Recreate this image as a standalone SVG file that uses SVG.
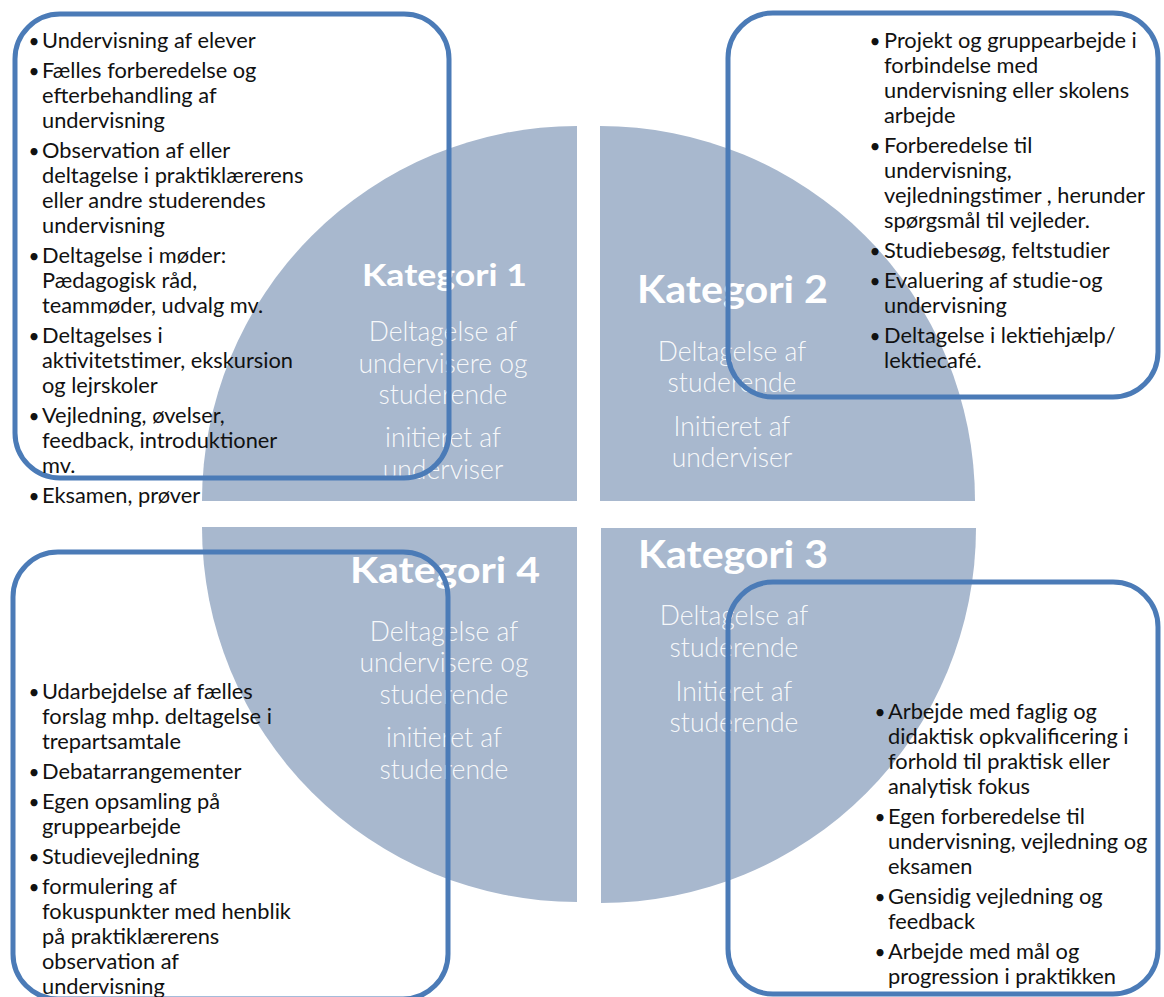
<svg xmlns="http://www.w3.org/2000/svg" width="1164" height="997" viewBox="0 0 1164 997">
<style>
.q{fill:#a8b8ce}
.box{fill:none;stroke:#4b7bb7;stroke-width:5}
.t{font-family:Lato,"Liberation Sans",sans-serif;font-size:21.8px;fill:#111111}
.bu{font-family:Lato,"Liberation Sans",sans-serif;font-size:19px;fill:#111111;text-anchor:middle}
.h{font-family:Lato,"Liberation Sans",sans-serif;font-weight:700;fill:#ffffff;text-anchor:middle}
.s{font-family:Lato,"Liberation Sans",sans-serif;font-weight:300;font-size:26.5px;fill:#ffffff;fill-opacity:0.93;text-anchor:middle}
</style>
<rect width="1164" height="997" fill="#ffffff"/>

<g id="kategori-1">
<path class="q" d="M577,501 L202,501 A375,375 0 0 1 577,126 Z"/>
<text class="h" x="444.5" y="286" font-size="30" textLength="165" lengthAdjust="spacingAndGlyphs">Kategori 1</text>
<text class="s"><tspan x="443" y="341">Deltagelse af</tspan><tspan x="443" y="373">undervisere og</tspan><tspan x="443" y="404">studerende</tspan><tspan x="443" y="447">initieret af</tspan><tspan x="443" y="479">underviser</tspan></text>
</g>

<g id="kategori-2">
<path class="q" d="M600,501 L600,126 A375,375 0 0 1 975,501 Z"/>
<text class="h" x="732.5" y="303" font-size="38" textLength="191" lengthAdjust="spacingAndGlyphs">Kategori 2</text>
<text class="s"><tspan x="732" y="361">Deltagelse af</tspan><tspan x="732" y="392">studerende</tspan><tspan x="732" y="436">Initieret af</tspan><tspan x="732" y="467">underviser</tspan></text>
</g>

<g id="kategori-3">
<path class="q" d="M601,528 L976,528 A375,375 0 0 1 601,903 Z"/>
<text class="h" x="733" y="568" font-size="38" textLength="190" lengthAdjust="spacingAndGlyphs">Kategori 3</text>
<text class="s"><tspan x="734" y="625">Deltagelse af</tspan><tspan x="734" y="657">studerende</tspan><tspan x="734" y="701">Initieret af</tspan><tspan x="734" y="732">studerende</tspan></text>
</g>

<g id="kategori-4">
<path class="q" d="M577,527 L577,902 A375,375 0 0 1 202,527 Z"/>
<text class="h" x="445" y="583" font-size="37" textLength="190" lengthAdjust="spacingAndGlyphs">Kategori 4</text>
<text class="s"><tspan x="444" y="641">Deltagelse af</tspan><tspan x="444" y="672">undervisere og</tspan><tspan x="444" y="704">studerende</tspan><tspan x="444" y="747">initieret af</tspan><tspan x="444" y="779">studerende</tspan></text>
</g>

<g id="boks-1">
<rect class="box" x="15" y="14" width="434" height="464" rx="45"/>
<text class="bu"><tspan x="34" y="48">•</tspan><tspan x="34" y="78">•</tspan><tspan x="34" y="158">•</tspan><tspan x="34" y="263">•</tspan><tspan x="34" y="343">•</tspan><tspan x="34" y="423">•</tspan><tspan x="34" y="503">•</tspan></text>
<text class="t">
<tspan x="42" y="48">Undervisning af elever</tspan>
<tspan x="42" y="78">Fælles forberedelse og</tspan>
<tspan x="42" y="103">efterbehandling af</tspan>
<tspan x="42" y="128">undervisning</tspan>
<tspan x="42" y="158">Observation af eller</tspan>
<tspan x="42" y="183">deltagelse i praktiklærerens</tspan>
<tspan x="42" y="208">eller andre studerendes</tspan>
<tspan x="42" y="233">undervisning</tspan>
<tspan x="42" y="263">Deltagelse i møder:</tspan>
<tspan x="42" y="288">Pædagogisk råd,</tspan>
<tspan x="42" y="313">teammøder, udvalg mv.</tspan>
<tspan x="42" y="343">Deltagelses i</tspan>
<tspan x="42" y="368">aktivitetstimer, ekskursion</tspan>
<tspan x="42" y="393">og lejrskoler</tspan>
<tspan x="42" y="423">Vejledning, øvelser,</tspan>
<tspan x="42" y="448">feedback, introduktioner</tspan>
<tspan x="42" y="473">mv.</tspan>
<tspan x="42" y="503">Eksamen, prøver</tspan>
</text>
</g>

<g id="boks-2">
<rect class="box" x="728" y="13" width="430" height="384" rx="45"/>
<text class="bu"><tspan x="875" y="48">•</tspan><tspan x="875" y="153">•</tspan><tspan x="875" y="258">•</tspan><tspan x="875" y="288">•</tspan><tspan x="875" y="343">•</tspan></text>
<text class="t">
<tspan x="884" y="48">Projekt og gruppearbejde i</tspan>
<tspan x="884" y="73">forbindelse med</tspan>
<tspan x="884" y="98">undervisning eller skolens</tspan>
<tspan x="884" y="123">arbejde</tspan>
<tspan x="884" y="153">Forberedelse til</tspan>
<tspan x="884" y="178">undervisning,</tspan>
<tspan x="884" y="203">vejledningstimer , herunder</tspan>
<tspan x="884" y="228">spørgsmål til vejleder.</tspan>
<tspan x="884" y="258">Studiebesøg, feltstudier</tspan>
<tspan x="884" y="288">Evaluering af studie-og</tspan>
<tspan x="884" y="313">undervisning</tspan>
<tspan x="884" y="343">Deltagelse i lektiehjælp/</tspan>
<tspan x="884" y="368">lektiecafé.</tspan>
</text>
</g>

<g id="boks-3">
<rect class="box" x="728" y="582" width="430" height="412" rx="45"/>
<text class="bu"><tspan x="880" y="719">•</tspan><tspan x="880" y="824">•</tspan><tspan x="880" y="904">•</tspan><tspan x="880" y="959">•</tspan></text>
<text class="t">
<tspan x="888" y="719">Arbejde med faglig og</tspan>
<tspan x="888" y="744">didaktisk opkvalificering i</tspan>
<tspan x="888" y="769">forhold til praktisk eller</tspan>
<tspan x="888" y="794">analytisk fokus</tspan>
<tspan x="888" y="824">Egen forberedelse til</tspan>
<tspan x="888" y="849">undervisning, vejledning og</tspan>
<tspan x="888" y="874">eksamen</tspan>
<tspan x="888" y="904">Gensidig vejledning og</tspan>
<tspan x="888" y="929">feedback</tspan>
<tspan x="888" y="959">Arbejde med mål og</tspan>
<tspan x="888" y="984">progression i praktikken</tspan>
</text>
</g>

<g id="boks-4">
<rect class="box" x="13" y="552" width="435" height="447" rx="45"/>
<text class="bu"><tspan x="34" y="699">•</tspan><tspan x="34" y="779">•</tspan><tspan x="34" y="809">•</tspan><tspan x="34" y="864">•</tspan><tspan x="34" y="894">•</tspan></text>
<text class="t">
<tspan x="42" y="699">Udarbejdelse af fælles</tspan>
<tspan x="42" y="724">forslag mhp. deltagelse i</tspan>
<tspan x="42" y="749">trepartsamtale</tspan>
<tspan x="42" y="779">Debatarrangementer</tspan>
<tspan x="42" y="809">Egen opsamling på</tspan>
<tspan x="42" y="834">gruppearbejde</tspan>
<tspan x="42" y="864">Studievejledning</tspan>
<tspan x="42" y="894">formulering af</tspan>
<tspan x="42" y="919">fokuspunkter med henblik</tspan>
<tspan x="42" y="944">på praktiklærerens</tspan>
<tspan x="42" y="969">observation af</tspan>
<tspan x="42" y="994">undervisning</tspan>
</text>
</g>

<g id="connectors"></g>
</svg>
